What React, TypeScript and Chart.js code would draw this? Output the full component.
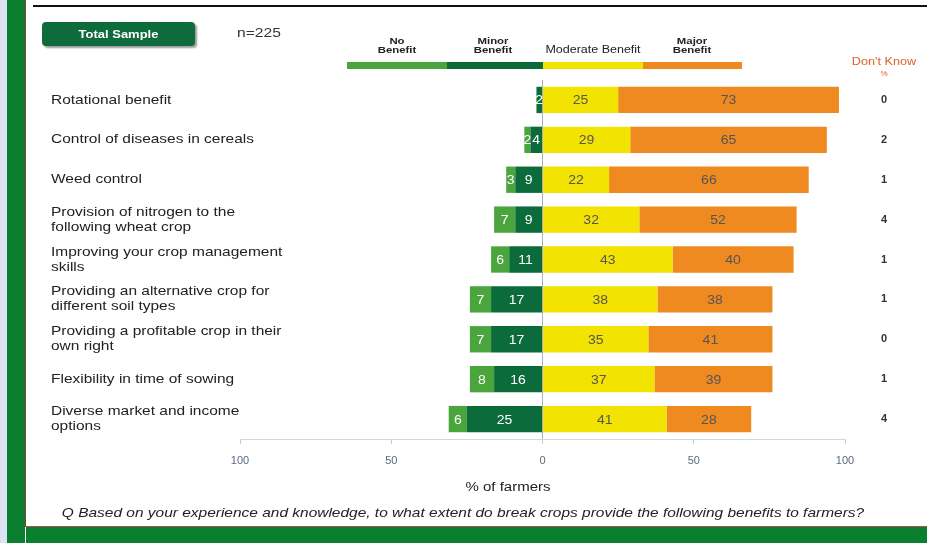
import React, { useEffect, useRef } from "react";
import { Chart, registerables } from "chart.js";

Chart.register(...registerables);

const categories: string[][] = [
  ["Rotational benefit"],
  ["Control of diseases in cereals"],
  ["Weed control"],
  ["Provision of nitrogen to the", "following wheat crop"],
  ["Improving your crop management", "skills"],
  ["Providing an alternative crop for", "different soil types"],
  ["Providing a profitable crop in their", "own right"],
  ["Flexibility in time of sowing"],
  ["Diverse market and income", "options"],
];
const noBenefit = [0, 2, 3, 7, 6, 7, 7, 8, 6];
const minorBenefit = [2, 4, 9, 9, 11, 17, 17, 16, 25];
const moderateBenefit = [25, 29, 22, 32, 43, 38, 35, 37, 41];
const majorBenefit = [73, 65, 66, 52, 40, 38, 41, 39, 28];
const dontKnow = [0, 2, 1, 4, 1, 1, 0, 1, 4];
const xTicks = [-100, -50, 0, 50, 100];

const C_NO = "#4aa53c";
const C_MINOR = "#0b6b3a";
const C_MOD = "#f2e400";
const C_MAJ = "#ee8a1f";
const FONT = "'Liberation Sans', Arial, sans-serif";
const STRETCH = 1.19;

const labelPlugin = {
  id: "segLabels",
  afterDatasetsDraw(chart: any) {
    const ctx = chart.ctx;
    ctx.save();
    ctx.font = `12.5px ${FONT}`;
    ctx.textAlign = "center";
    ctx.textBaseline = "middle";
    chart.data.datasets.forEach((ds: any, di: number) => {
      const meta = chart.getDatasetMeta(di);
      meta.data.forEach((el: any, i: number) => {
        const v = Math.abs(ds.data[i]);
        if (!v) return;
        ctx.save();
        ctx.translate((el.x + el.base) / 2, el.y + 1);
        ctx.scale(1.12, 1);
        ctx.fillStyle = ds.labelColor;
        ctx.fillText(String(v), 0, 0);
        ctx.restore();
      });
    });
    ctx.restore();
  },
};

const catLabelPlugin = {
  id: "catLabels",
  afterDraw(chart: any) {
    const ctx = chart.ctx;
    const ys = chart.scales.y;
    ctx.save();
    ctx.font = `13px ${FONT}`;
    ctx.fillStyle = "#222";
    ctx.textAlign = "left";
    ctx.textBaseline = "middle";
    const lh = 15;
    categories.forEach((lines, i) => {
      const yc = ys.getPixelForValue(i);
      const y0 = yc - ((lines.length - 1) * lh) / 2;
      lines.forEach((line, j) => {
        ctx.save();
        ctx.translate(ys.left, y0 + j * lh);
        ctx.scale(STRETCH, 1);
        ctx.fillText(line, 0, 0);
        ctx.restore();
      });
    });
    ctx.restore();
  },
};

export default function App() {
  const ref = useRef<HTMLCanvasElement>(null);
  useEffect(() => {
    if (!ref.current) return;
    const chart = new Chart(ref.current, {
      type: "bar",
      data: {
        labels: categories.map((c) => c.join(" ")),
        datasets: [
          { label: "Minor Benefit", data: minorBenefit.map((v) => -v), backgroundColor: C_MINOR, labelColor: "#ffffff" } as any,
          { label: "No Benefit", data: noBenefit.map((v) => -v), backgroundColor: C_NO, labelColor: "#ffffff" } as any,
          { label: "Moderate Benefit", data: moderateBenefit, backgroundColor: C_MOD, labelColor: "#555555" } as any,
          { label: "Major Benefit", data: majorBenefit, backgroundColor: C_MAJ, labelColor: "#555555" } as any,
        ],
      },
      options: {
        indexAxis: "y",
        responsive: false,
        animation: false,
        devicePixelRatio: 1,
        layout: { padding: { left: 51, right: 4, top: 80, bottom: 69 } },
        datasets: { bar: { barPercentage: 0.66, categoryPercentage: 1 } },
        plugins: { legend: { display: false }, tooltip: { enabled: false } },
        scales: {
          x: {
            type: "linear",
            stacked: true,
            min: -100,
            max: 100,
            afterBuildTicks: (s: any) => {
              s.ticks = xTicks.map((v) => ({ value: v }));
            },
            afterFit: (s: any) => {
              s.height = 35;
            },
            grid: {
              drawOnChartArea: true,
              color: (c: any) => (c.tick && c.tick.value === 0 ? "#a8b0bc" : "rgba(0,0,0,0)"),
              tickColor: "#c8ccd4",
              tickLength: 5,
            },
            border: { color: "#d4d8de" },
            ticks: {
              padding: 10,
              color: "#5a6a80",
              font: { family: FONT, size: 11 },
              callback: (v: any) => String(Math.abs(Number(v))),
            },
          },
          y: {
            type: "category",
            stacked: true,
            position: "left",
            afterFit: (s: any) => {
              s.width = 189;
            },
            grid: { display: false },
            border: { display: false },
            ticks: { display: false },
          },
          y2: {
            type: "category",
            position: "right",
            offset: true,
            labels: dontKnow.map(String),
            afterFit: (s: any) => {
              s.width = 78;
            },
            grid: { display: false, drawTicks: false },
            border: { display: false },
            ticks: {
              autoSkip: false,
              crossAlign: "near",
              padding: 36,
              color: "#333",
              font: { family: FONT, size: 11, weight: "bold" },
            },
          },
        },
      },
      plugins: [labelPlugin, catLabelPlugin],
    } as any);
    return () => chart.destroy();
  }, []);

  const abs = (s: React.CSSProperties): React.CSSProperties => ({ position: "absolute", ...s });
  const stretch = (k: number): React.CSSProperties => ({ transform: `scaleX(${k})`, transformOrigin: "50% 50%" });
  const legendText: React.CSSProperties = {
    fontFamily: FONT,
    fontSize: 9.5,
    fontWeight: "bold",
    lineHeight: "9.5px",
    textAlign: "center",
    color: "#222",
    ...stretch(1.2),
  };

  return (
    <div style={abs({ left: 0, top: 0, width: 927, height: 543, background: "#fff", overflow: "hidden" })}>
      <canvas ref={ref} width={927} height={543} style={abs({ left: 0, top: 0, width: 927, height: 543 })} />
      {/* frame */}
      <div style={abs({ left: 0, top: 0, width: 7, height: 543, background: "#dfe2f0" })} />
      <div style={abs({ left: 7, top: 0, width: 18, height: 543, background: "#0a7f30" })} />
      <div style={abs({ left: 25, top: 0, width: 1, height: 527, background: "#8a3b2e" })} />
      <div style={abs({ left: 25, top: 526, width: 902, height: 1, background: "#a0524a" })} />
      <div style={abs({ left: 26, top: 527, width: 901, height: 16, background: "#0a7f30" })} />
      <div style={abs({ left: 33, top: 5, width: 894, height: 2, background: "#111" })} />
      {/* Total sample */}
      <div
        style={abs({
          left: 42,
          top: 22,
          width: 153,
          height: 24,
          background: "#0d6b3c",
          borderRadius: 4,
          boxShadow: "2px 2px 2px #9a9a9a",
        })}
      />
      <div
        style={abs({
          left: 42,
          top: 22,
          width: 153,
          height: 24,
          color: "#fff",
          fontFamily: FONT,
          fontWeight: "bold",
          fontSize: 11,
          lineHeight: "24px",
          textAlign: "center",
          ...stretch(1.18),
        })}
      >
        Total Sample
      </div>
      <div style={abs({ left: 229, top: 25, width: 60, textAlign: "center", fontFamily: FONT, fontSize: 13, color: "#333", ...stretch(1.2) })}>
        n=225
      </div>
      {/* legend */}
      <div style={abs({ left: 347, top: 35.5, width: 100, ...legendText })}>No<br />Benefit</div>
      <div style={abs({ left: 443, top: 35.5, width: 100, ...legendText })}>Minor<br />Benefit</div>
      <div style={abs({ left: 543, top: 45, width: 100, ...legendText, fontWeight: "normal", fontSize: 10, ...stretch(1.25) })}>
        Moderate Benefit
      </div>
      <div style={abs({ left: 642, top: 35.5, width: 100, ...legendText })}>Major<br />Benefit</div>
      <div style={abs({ left: 347, top: 62, width: 100, height: 7, background: C_NO })} />
      <div style={abs({ left: 447, top: 62, width: 96, height: 7, background: C_MINOR })} />
      <div style={abs({ left: 543, top: 62, width: 100, height: 7, background: C_MOD })} />
      <div style={abs({ left: 643, top: 62, width: 99, height: 7, background: C_MAJ })} />
      <div
        style={abs({
          left: 845,
          top: 56,
          width: 78,
          textAlign: "center",
          fontFamily: FONT,
          fontSize: 11,
          lineHeight: "11px",
          color: "#e0602a",
          ...stretch(1.15),
        })}
      >
        Don't Know
        <br />
        <span style={{ fontSize: 7 }}>%</span>
      </div>
      {/* axis title */}
      <div style={abs({ left: 443, top: 480, width: 130, textAlign: "center", fontFamily: FONT, fontSize: 12.5, color: "#222", ...stretch(1.2) })}>
        % of farmers
      </div>
      {/* question */}
      <div
        style={abs({
          left: 30,
          top: 505,
          width: 866,
          textAlign: "center",
          fontFamily: FONT,
          fontStyle: "italic",
          fontSize: 13,
          color: "#222",
          whiteSpace: "nowrap",
          ...stretch(1.19),
        })}
      >
        Q Based on your experience and knowledge, to what extent do break crops provide the following benefits to farmers?
      </div>
    </div>
  );
}
